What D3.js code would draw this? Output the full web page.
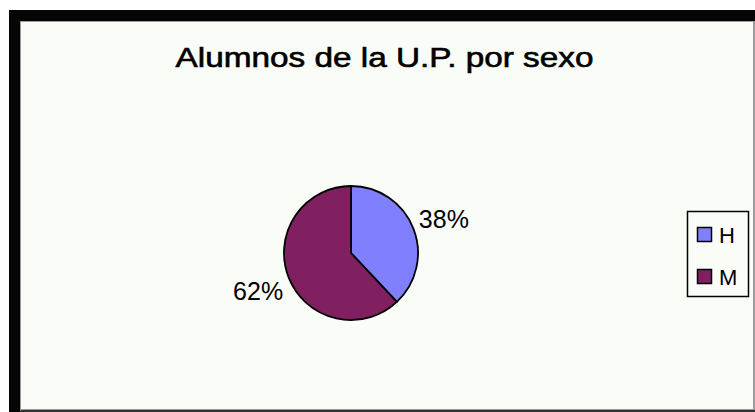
<!DOCTYPE html>
<html lang="es">
    <head>
        <meta charset="utf-8">
        <title>Alumnos de la U.P. por sexo</title>
        <script type="text/javascript" src="https://cdn.jsdelivr.net/npm/d3@7"></script>
        <style type="text/css">
            body { margin: 0; background: #ffffff; }
            svg { display: block; }
            text { font-family: "Liberation Sans", Arial, sans-serif; fill: #000; }
        </style>
    </head>
    <body>
        <script type="text/javascript">
            var w = 755;
            var h = 412;

            // Data
            var categories = ["H", "M"];
            var values = [38, 62];
            var colors = ["#8080ff", "#802060"];
            var title = "Alumnos de la U.P. por sexo";

            var svg = d3.select("body")
                        .append("svg")
                        .attr("width", w)
                        .attr("height", h);

            // frame: thick black at top/left, thin grey edges
            svg.append("rect").attr("x", 9).attr("y", 10).attr("width", w - 9).attr("height", h - 10).attr("fill", "#050505");
            svg.append("rect").attr("x", 20).attr("y", 21).attr("width", w - 20).attr("height", h - 21 - 1).attr("fill", "#9a9a9a");
            svg.append("rect").attr("x", 21).attr("y", 22).attr("width", w - 21 - 2).attr("height", h - 22 - 3).attr("fill", "#fafcf8");
            svg.append("rect").attr("x", 21).attr("y", h - 2).attr("width", w - 21).attr("height", 2).attr("fill", "#333");

            // title
            svg.append("text")
               .attr("x", 384.5)
               .attr("y", 67)
               .attr("text-anchor", "middle")
               .attr("font-size", "27px")
               .attr("stroke", "#000")
               .attr("stroke-width", 0.6)
               .attr("textLength", 418)
               .attr("lengthAdjust", "spacingAndGlyphs")
               .text(title);

            // pie
            var cx = 351, cy = 253, r = 67;
            var pie = d3.pie().sort(null);
            var arc = d3.arc().innerRadius(0).outerRadius(r);
            var labelArc = d3.arc().innerRadius(r + 6).outerRadius(r + 6);
            var total = d3.sum(values);
            var slices = pie(values);

            var g = svg.append("g").attr("transform", "translate(" + cx + "," + cy + ")");

            g.selectAll("path")
             .data(slices)
             .enter()
             .append("path")
             .attr("d", arc)
             .attr("fill", function(d, i) { return colors[i]; })
             .attr("stroke", "#000")
             .attr("stroke-width", 1.8)
             .attr("stroke-linejoin", "round");

            g.selectAll("text.lbl")
             .data(slices)
             .enter()
             .append("text")
             .attr("class", "lbl")
             .attr("font-size", "25px")
             .attr("x", function(d) { return labelArc.centroid(d)[0]; })
             .attr("y", function(d) {
                 var p = labelArc.centroid(d);
                 // lower half: hang below the point, upper half: sit on it
                 return p[1] > 0 ? p[1] + 20 : p[1] + 2;
             })
             .attr("text-anchor", function(d) {
                 return labelArc.centroid(d)[0] >= 0 ? "start" : "end";
             })
             .text(function(d) { return Math.round(d.value / total * 100) + "%"; });

            // legend
            var legY = d3.scalePoint().domain(categories).range([227, 269]);

            svg.append("rect")
               .attr("x", 687.5).attr("y", 211.5)
               .attr("width", 61).attr("height", 85)
               .attr("fill", "none")
               .attr("stroke", "#000")
               .attr("stroke-width", 1.5);

            var leg = svg.selectAll("g.leg")
                         .data(categories)
                         .enter()
                         .append("g")
                         .attr("class", "leg")
                         .attr("transform", function(d) { return "translate(697," + legY(d) + ")"; });

            leg.append("rect")
               .attr("x", 0.5).attr("y", 0.5)
               .attr("width", 14).attr("height", 14)
               .attr("fill", function(d, i) { return colors[i]; })
               .attr("stroke", "#000")
               .attr("stroke-width", 1.5);

            leg.append("text")
               .attr("x", 22)
               .attr("y", 15.5)
               .attr("font-size", "22px")
               .text(function(d) { return d; });
        </script>
    </body>
</html>
